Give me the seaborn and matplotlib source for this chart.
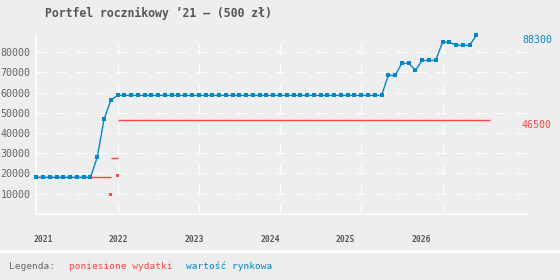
import matplotlib
matplotlib.use("Agg")
import matplotlib.pyplot as plt
import matplotlib.transforms as mtransforms
import seaborn as sns
import pandas as pd

# ---- data ----
title = "Portfel rocznikowy ’21 – (500 zł)"
market_values = ([18000] * 9 + [27900, 46700, 56100] + [58600] * 40 +
                 [68500, 68500, 74500, 74500, 71000, 75900, 75900, 75900,
                  84900, 84900, 83400, 83400, 83400, 88300])
months = list(range(len(market_values)))  # 0 = Jan 2021
cost_start = [0, 11, 12]
cost_end = [11, 12, 67]
cost_values = [18000, 27600, 46500]
cost_dot_months = [11, 12]
cost_dot_values = [9600, 19000]
year_labels = ["2021", "2022", "2023", "2024", "2025", "2026"]
year_label_pos = [1.0, 12.07, 23.3, 34.5, 45.7, 56.8]
year_grid = [12, 24, 36, 48, 60]
y_ticks = [10000, 20000, 30000, 40000, 50000, 60000, 70000, 80000]
last_market = 88300
last_cost = 46500

BLUE = "#0088cc"
RED = "#ff4444"
BG = "#eeeeee"
TXT = "#666666"
MONO = "DejaVu Sans Mono"

sns.set_theme(style="white")
plt.rcParams["font.family"] = [MONO]

fig = plt.figure(figsize=(5.6, 2.8), dpi=100, facecolor=BG)
ax = fig.add_axes([36.3 / 560, 1 - 213.7 / 280, (526.7 - 36.3) / 560, (213.7 - 36) / 280])
ax.set_facecolor(BG)

ax.set_xlim(0, (526.7 - 36.3) / 6.77)
ax.set_ylim(0, 88000)

# grid
for yv in y_ticks:
    ax.axhline(yv, color="white", lw=0.8, ls=(0, (9, 9)), zorder=0)
for xv in year_grid:
    ax.axvline(xv, color="white", lw=0.8, ls=(0, (9, 9)), zorder=0)

for s in ["top", "right"]:
    ax.spines[s].set_visible(False)
for s in ["left", "bottom"]:
    ax.spines[s].set_color("white")
    ax.spines[s].set_linewidth(1.2)

# cost series (red)
ax.hlines(cost_values, cost_start, cost_end, color=RED, lw=1, zorder=2)
sns.scatterplot(x=cost_dot_months, y=cost_dot_values, marker="s", s=6,
                color=RED, edgecolor="none", ax=ax, zorder=3)

# market value (blue)
df = pd.DataFrame({"m": months, "v": market_values})
sns.lineplot(data=df, x="m", y="v", color=BLUE, lw=1, marker="s",
             markersize=2.5, markeredgewidth=0, ax=ax, zorder=4, clip_on=False)

ax.set_xlabel("")
ax.set_ylabel("")
ax.set_yticks(y_ticks)
ax.set_yticklabels([str(v) for v in y_ticks], color=TXT, fontsize=7.2)
ax.tick_params(axis="y", length=0, pad=4)
ax.set_xticks(year_label_pos)
ax.set_xticklabels(year_labels, color="#555555", fontsize=5.8, fontweight="bold")
ax.tick_params(axis="x", length=0, pad=15)

# end labels
tr = mtransforms.blended_transform_factory(fig.transFigure, ax.transData)
ax.text(522 / 560, last_market, str(last_market), transform=tr,
        color=BLUE, fontsize=7.2, ha="left", va="top")
ax.text(522 / 560, last_cost, str(last_cost), transform=tr,
        color=RED, fontsize=7.2, ha="left", va="top")

# title
fig.text(45 / 560, 1 - 13 / 280, title, color="#555555", fontsize=8.3,
         fontweight="bold", ha="left", va="center")

# legend band
fig.patches.append(plt.Rectangle((0, 0), 1, 1 - 250 / 280, transform=fig.transFigure,
                                 facecolor="white", edgecolor="none", zorder=0))
fig.patches.append(plt.Rectangle((0, 0), 1, 1 - 253 / 280, transform=fig.transFigure,
                                 facecolor="#ededed", edgecolor="none", zorder=0))
ly = 1 - 266.7 / 280
fig.text(9 / 560, ly, "Legenda:", color=TXT, fontsize=6.8, ha="left", va="center")
fig.text(69.3 / 560, ly, "poniesione wydatki", color=RED, fontsize=6.8, ha="left", va="center")
fig.text(186.3 / 560, ly, "wartość rynkowa", color=BLUE, fontsize=6.8, ha="left", va="center")

fig.savefig("out.png", dpi=100, facecolor=BG)
